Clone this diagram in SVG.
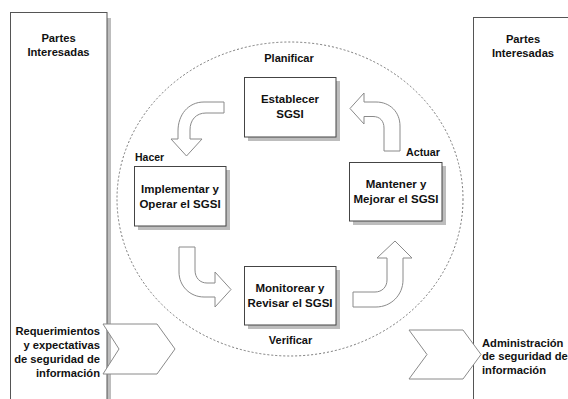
<svg xmlns="http://www.w3.org/2000/svg" width="568" height="399" viewBox="0 0 568 399">
  <style>
    text { font-family: "Liberation Sans", Arial, sans-serif; font-weight: bold; fill: #111; }
    .panel { fill: #fff; stroke: #555; stroke-width: 1; }
    .shadow { fill: #bdbdbd; }
    .box { fill: #fff; stroke: #444; stroke-width: 1; }
    .flow { fill: #fff; stroke: #8a8a8a; stroke-width: 1; stroke-linejoin: miter; }
    .chev { fill: #fff; stroke: #8a8a8a; stroke-width: 1; }
    .cycle { fill: none; stroke: #777; stroke-width: 1; stroke-dasharray: 2 2; }
    .box-t { font-size: 11.5px; text-anchor: middle; }
    .side-t { font-size: 11.2px; }
    .phase { font-size: 11px; }
  </style>
  <rect width="568" height="399" fill="#fff"/>

  <!-- stakeholder panels -->
  <g id="panel-left">
    <rect class="shadow" x="107" y="18" width="4" height="400"/>
    <rect class="panel" x="10.5" y="12.5" width="96.5" height="400"/>
    <text class="side-t" x="58.5" y="42" text-anchor="middle">Partes</text>
    <text class="side-t" x="58.5" y="56" text-anchor="middle">Interesadas</text>
  </g>
  <g id="panel-right">
    <rect class="panel" x="473.5" y="17.5" width="110" height="400"/>
    <text class="side-t" x="523" y="43" text-anchor="middle">Partes</text>
    <text class="side-t" x="523" y="57" text-anchor="middle">Interesadas</text>
  </g>

  <!-- PDCA cycle outline -->
  <ellipse class="cycle" cx="290" cy="199" rx="173" ry="157"/>

  <!-- connectors -->
  <g id="connectors">
    <path class="flow" d="M224,102 L204,102 C188,102 178,115 178,131 L178,139 L171,139 L186.5,156 L202,139 L190,139 L190,130 C190,120 196,113 206,113 L224,113 Z"/>
    <path class="flow" d="M384,151 L384,128 C384,121 380,116.5 373,116.5 L364,116.5 L364,124 L350,108.5 L364,93 L364,102 L376,102 C390,102 400,112 400,126 L400,151 Z"/>
    <path class="flow" d="M179,247 L195,247 L195,270 C195,278 200,283 207,283 L215,283 L215,272 L231,289.5 L215,307 L215,297 L204,297 C190,297 179,286 179,272 Z"/>
    <path class="flow" d="M353,292 L375,292 C382,292 387,287 387,280 L387,258 L377,258 L395,241 L412,258 L403,258 L403,280 C403,295 391,307 376,307 L353,307 Z"/>
    <polygon class="chev" points="103,324 157,324 175,349 157,374 103,374 119,349"/>
    <polygon class="chev" points="409,330 463,330 481,354.5 463,379 409,379 427,354.5"/>
  </g>

  <!-- phase labels -->
  <text class="phase" x="289" y="62" text-anchor="middle">Planificar</text>
  <text class="phase" x="135" y="161" style="font-size:10.5px">Hacer</text>
  <text class="phase" x="406" y="156" style="font-size:10.7px">Actuar</text>
  <text class="phase" x="290.5" y="344" text-anchor="middle">Verificar</text>

  <!-- process steps -->
  <g id="establecer">
    <rect class="shadow" x="248" y="81" width="92" height="60"/>
    <rect class="box" x="244.5" y="77.5" width="91.5" height="59.5"/>
    <text class="box-t" x="290" y="103">Establecer</text>
    <text class="box-t" x="290" y="118">SGSI</text>
  </g>
  <g id="implementar">
    <rect class="shadow" x="138" y="170" width="92" height="60"/>
    <rect class="box" x="134.5" y="166.5" width="91.5" height="59.5"/>
    <text class="box-t" x="180" y="193">Implementar y</text>
    <text class="box-t" x="180" y="208">Operar el SGSI</text>
  </g>
  <g id="mantener">
    <rect class="shadow" x="353" y="166" width="93" height="59"/>
    <rect class="box" x="349.5" y="162.5" width="92.5" height="58.5"/>
    <text class="box-t" x="396" y="188">Mantener y</text>
    <text class="box-t" x="396" y="203">Mejorar el SGSI</text>
  </g>
  <g id="monitorear">
    <rect class="shadow" x="248" y="270" width="92" height="59"/>
    <rect class="box" x="244.5" y="266.5" width="91.5" height="58.5"/>
    <text class="box-t" x="290" y="292">Monitorear y</text>
    <text class="box-t" x="290" y="307">Revisar el SGSI</text>
  </g>

  <!-- inputs and outputs -->
  <g id="entrada">
    <text class="side-t" x="100" y="334.5" text-anchor="end">Requerimientos</text>
    <text class="side-t" x="100" y="348.5" text-anchor="end">y expectativas</text>
    <text class="side-t" x="100" y="362.5" text-anchor="end">de seguridad de</text>
    <text class="side-t" x="100" y="376.5" text-anchor="end">información</text>
  </g>
  <g id="salida">
    <text class="side-t" x="482" y="346.5">Administración</text>
    <text class="side-t" x="482" y="360">de seguridad de</text>
    <text class="side-t" x="482" y="373.5">información</text>
  </g>
</svg>
